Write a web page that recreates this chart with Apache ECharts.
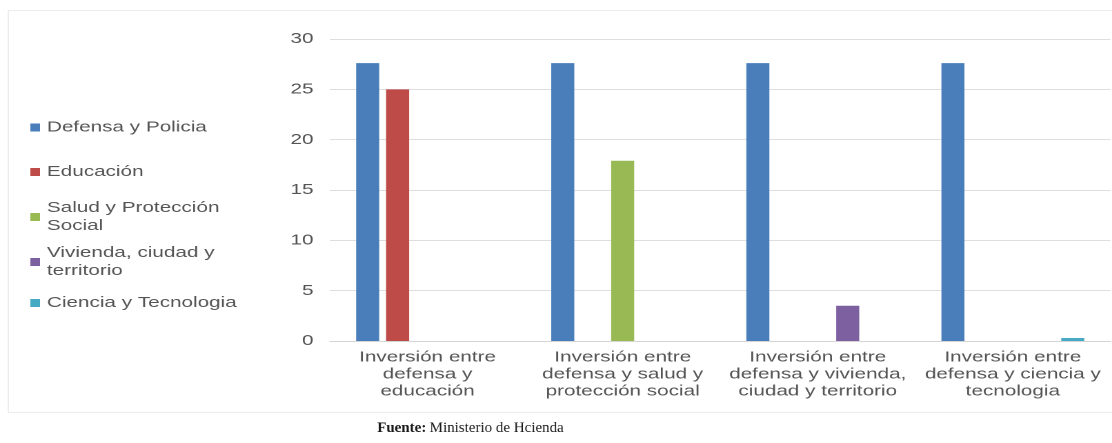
<!DOCTYPE html>
<html>
<head>
<meta charset="utf-8">
<script src="https://cdn.jsdelivr.net/npm/echarts@6/dist/echarts.min.js"></script>
<style>
html,body{margin:0;padding:0;background:#fff;overflow:hidden;}
#wrap{width:1112px;height:443px;overflow:hidden;}
#chart{width:806px;height:443px;transform:scaleX(1.3797);transform-origin:0 0;}
</style>
</head>
<body>
<div id="wrap"><div id="chart"></div></div>
<script>
// ---- data ----
var categories = [
  "Inversión entre\ndefensa y\neducación",
  "Inversión entre\ndefensa y salud y\nprotección social",
  "Inversión entre\ndefensa y vivienda,\nciudad y territorio",
  "Inversión entre\ndefensa y ciencia y\ntecnologia"
];
var seriesNames = [
  "Defensa y Policia",
  "Educación",
  "Salud y Protección\nSocial",
  "Vivienda, ciudad y\nterritorio",
  "Ciencia y Tecnologia"
];
var defensa   = [27.6, 27.6, 27.6, 27.6];
var educacion = [25.0, null, null, null];
var salud     = [null, 17.9, null, null];
var vivienda  = [null, null, 3.5, null];
var ciencia   = [null, null, null, 0.3];
var yTicks = [0, 5, 10, 15, 20, 25, 30];
var sourceNote = "Ministerio de Hcienda";

// ---- styles ----
var S = 1.3797; // horizontal stretch of the reference picture
var colors = ["#4a7ebb", "#be4b48", "#98b954", "#7d60a0", "#46aac5"];
var values = [defensa, educacion, salud, vivienda, ciencia];
var legendTops = [118.5, 163, 190, 235, 294];
var textGray = "#555555";
var sans = "Liberation Sans, Arial, sans-serif";

var legends = seriesNames.map(function (n, i) {
  var twoLine = n.indexOf("\n") >= 0;
  return {
    data: [n],
    orient: "vertical",
    left: 22,
    top: legendTops[i],
    padding: 0,
    itemWidth: 7,
    itemHeight: 8,
    icon: "rect",
    selectedMode: false,
    textStyle: {
      color: textGray,
      fontFamily: sans,
      fontSize: 15,
      lineHeight: 18,
      padding: twoLine ? [18, 0, 0, 0] : 0
    }
  };
});

var series = seriesNames.map(function (n, i) {
  return {
    name: n,
    type: "bar",
    data: values[i],
    barWidth: 16.7,
    barGap: "30%",
    itemStyle: { color: colors[i] },
    emphasis: { disabled: true }
  };
});

var chart = echarts.init(document.getElementById("chart"), null, { renderer: "canvas", devicePixelRatio: 2 });
chart.setOption({
  animation: false,
  backgroundColor: "#ffffff",
  legend: legends,
  grid: { left: 239.2, right: 1.2, top: 39, bottom: 102, containLabel: false },
  xAxis: {
    type: "category",
    data: categories,
    axisTick: { show: false },
    axisLine: { lineStyle: { color: "#d4d4d4", width: 1 } },
    axisLabel: {
      color: textGray,
      fontFamily: sans,
      fontSize: 15,
      lineHeight: 17,
      margin: 8,
      interval: 0
    }
  },
  yAxis: {
    type: "value",
    min: yTicks[0],
    max: yTicks[yTicks.length - 1],
    interval: yTicks[1] - yTicks[0],
    axisLine: { show: false },
    axisTick: { show: false },
    splitLine: { lineStyle: { color: "#dedede", width: 1 } },
    axisLabel: { color: textGray, fontFamily: sans, fontSize: 15, margin: 12 }
  },
  graphic: [
    {
      type: "rect",
      silent: true,
      z: -10,
      shape: { x: 6, y: 10.5, width: 820, height: 402 },
      style: { fill: "none", stroke: "#ececec", lineWidth: 1 }
    },
    {
      type: "text",
      silent: true,
      x: 341,
      y: 428,
      scaleX: 1 / S,
      style: {
        text: "{b|Fuente:} {n|" + sourceNote + "}",
        align: "center",
        verticalAlign: "middle",
        rich: {
          b: { fontFamily: "Liberation Serif, Times New Roman, serif", fontSize: 15, fontWeight: "bold", fill: "#1a1a1a" },
          n: { fontFamily: "Liberation Serif, Times New Roman, serif", fontSize: 15, fill: "#1a1a1a" }
        }
      }
    }
  ],
  series: series
});
</script>
</body>
</html>
